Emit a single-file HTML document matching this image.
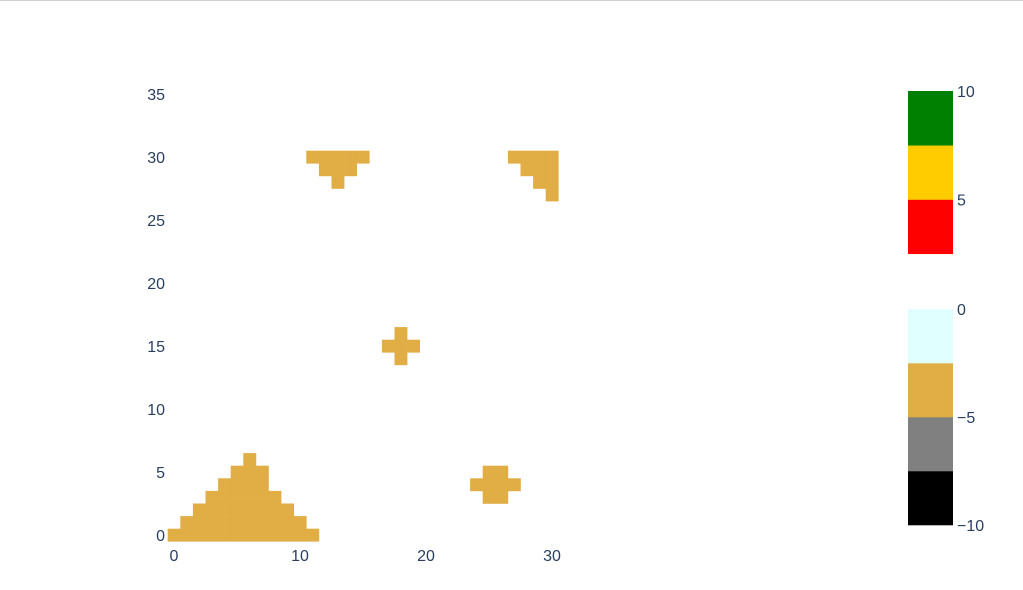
<!DOCTYPE html>
<html><head><meta charset="utf-8"><style>
body{margin:0;background:#fff;}
svg text{font-family:"Liberation Sans",sans-serif;font-size:16px;fill:#2a3f5f;}
</style></head><body>
<svg id="chart" width="1023" height="585">
<line x1="0" y1="0.5" x2="1023" y2="0.5" stroke="#d0d0d0" stroke-width="1"/>
<g id="cells"></g>
<g id="xticks"></g>
<g id="yticks"></g>
<g id="cb1"></g>
<g id="cb2"></g>
</svg>
<script>
const cellX = [0,1,2,3,4,5,6,7,8,9,10,11, 1,2,3,4,5,6,7,8,9,10, 2,3,4,5,6,7,8,9, 3,4,5,6,7,8, 4,5,6,7, 5,6,7, 6,
  25,26, 24,25,26,27, 25,26,
  18, 17,18,19, 18,
  11,12,13,14,15, 12,13,14, 13,
  27,28,29,30, 28,29,30, 29,30, 30];
const cellY = [0,0,0,0,0,0,0,0,0,0,0,0, 1,1,1,1,1,1,1,1,1,1, 2,2,2,2,2,2,2,2, 3,3,3,3,3,3, 4,4,4,4, 5,5,5, 6,
  5,5, 4,4,4,4, 3,3,
  16, 15,15,15, 14,
  30,30,30,30,30, 29,29,29, 28,
  30,30,30,30, 29,29,29, 28,28, 27];
const cellValue = -4;
const xTicks = [0,10,20,30];
const yTicks = [0,5,10,15,20,25,30,35];
const posBands = [[2.5,5,'#ff0000'],[5,7.5,'#ffcc00'],[7.5,10,'#008000']];
const posTicks = [5,10];
const negBands = [[-10,-7.5,'#000000'],[-7.5,-5,'#808080'],[-5,-2.5,'#e1ad45'],[-2.5,0,'#e0ffff']];
const negTicks = [-10,-5,0];

const NS='http://www.w3.org/2000/svg';
const U=12.6;
const sx=v=>174+v*U, sy=v=>535-v*U;
function mk(t,a,p){const e=document.createElementNS(NS,t);for(const k in a)e.setAttribute(k,a[k]);p.appendChild(e);return e;}
function colorOf(v){for(const b of negBands.concat(posBands)) if(v>=b[0]&&v<=b[1]) return b[2];return '#fff';}
const cells=document.getElementById('cells');
cellX.forEach((x,i)=>{
  const r=mk('rect',{x:sx(x-0.5),y:sy(cellY[i]+0.5),width:U+0.3,height:U+0.3,fill:colorOf(cellValue)},cells);
  
  
});
const xt=document.getElementById('xticks');
xTicks.forEach(v=>{const t=mk('text',{x:sx(v),y:561,'text-anchor':'middle'},xt);t.textContent=v;
  });
const yt=document.getElementById('yticks');
yTicks.forEach(v=>{const t=mk('text',{x:165,y:sy(v)+6,'text-anchor':'end'},yt);t.textContent=v;
  });
function colorbar(g,bands,ticks,top,vmax,ppu){
  const f=v=>top+(vmax-v)*ppu;
  bands.forEach(b=>{const r=mk('rect',{x:908,y:f(b[1]),width:45,height:(b[1]-b[0])*ppu+0.3,fill:b[2]},g);
    });
  ticks.forEach(v=>{const t=mk('text',{x:957,y:f(v)+6},g);t.textContent=v<0?'\u2212'+(-v):v;
    });
}
colorbar(document.getElementById('cb1'),posBands,posTicks,91,10,21.7);
colorbar(document.getElementById('cb2'),negBands,negTicks,309,0,21.6);
</script>
</body></html>
